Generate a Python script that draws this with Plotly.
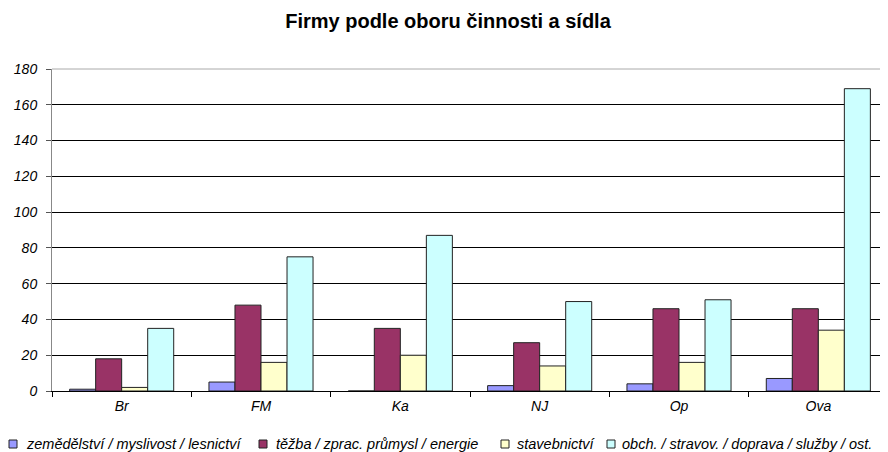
import plotly.graph_objects as go

# sídla (categories)
sidla = ['Br', 'FM', 'Ka', 'NJ', 'Op', 'Ova']

# počty firem podle oboru
zemedelstvi = [1, 5, 0, 3, 4, 7]
tezba = [18, 48, 35, 27, 46, 46]
stavebnictvi = [2, 16, 20, 14, 16, 34]
obchod = [35, 75, 87, 50, 51, 169]

y_ticks = [0, 20, 40, 60, 80, 100, 120, 140, 160, 180]

nazvy = ['zemědělství / myslivost / lesnictví',
         'těžba / zprac. průmysl / energie',
         'stavebnictví',
         'obch. / stravov. / doprava / služby / ost.']
barvy = ['#9999FF', '#993366', '#FFFFCC', '#CCFFFF']
hodnoty_vse = [zemedelstvi, tezba, stavebnictvi, obchod]

FONT = 'Liberation Sans, Arial, sans-serif'
font_it = dict(family=FONT, size=14, color='black', style='italic')

fig = go.Figure()
for nazev, hodnoty, barva in zip(nazvy, hodnoty_vse, barvy):
    fig.add_trace(go.Bar(
        x=sidla, y=hodnoty, name=nazev,
        marker=dict(color=barva, line=dict(color='#222222', width=1)),
    ))

# the page body has an 8px margin, so the figure is 8px smaller than the window
OFF = 8
W, H = 888 - OFF, 452 - OFF
# plot area in page pixels: x 52..888, y 69..391
L, R, T, B = 52 - OFF, 0, 69 - OFF, 452 - 391
pw, ph = W - L - R, H - T - B


def px_x(x):
    return (x - OFF - L) / pw


def px_y(y):
    return (H - B - (y - OFF)) / ph


fig.update_layout(
    width=W, height=H,
    margin=dict(l=L, r=R, t=T, b=B, autoexpand=False),
    paper_bgcolor='white', plot_bgcolor='white',
    barmode='group', bargap=0.253, bargroupgap=0,
    title=dict(text='<b>Firmy podle oboru činnosti a sídla</b>',
               x=0.5, xref='container', y=1 - (21 - OFF) / H,
               yanchor='middle',
               font=dict(family=FONT, size=20, color='black')),
    showlegend=False,
    xaxis=dict(showline=True, linecolor='black', linewidth=1,
               ticks='outside', tickson='boundaries', ticklen=5,
               tickcolor='black', tickfont=font_it, showgrid=False,
               ticklabelstandoff=2),
    yaxis=dict(range=[0, 180], tickvals=y_ticks, showline=True,
               linecolor='#888888', linewidth=1, ticks='outside',
               ticklen=5, tickcolor='#555555', tickfont=font_it,
               gridcolor='black', gridwidth=1, zeroline=False,
               ticklabelstandoff=6),
)

# top border of the plot area is lighter grey
fig.add_shape(type='line', xref='paper', yref='paper', x0=0, x1=1, y0=1, y1=1,
              line=dict(color='#AAAAAA', width=1))

# legend drawn as a single row under the chart (page pixels)
leg_y = 444
square_x = [9, 259, 501, 607]
text_x = [24, 274, 515, 620]
for nazev, barva, sx, tx in zip(nazvy, barvy, square_x, text_x):
    fig.add_shape(type='rect', xref='paper', yref='paper',
                  x0=px_x(sx), x1=px_x(sx + 8),
                  y0=px_y(leg_y - 4), y1=px_y(leg_y + 4),
                  fillcolor=barva, line=dict(color='#222222', width=1))
    fig.add_annotation(text=nazev, xref='paper', yref='paper',
                       x=px_x(tx), y=px_y(leg_y), xanchor='left',
                       yanchor='middle', showarrow=False,
                       font=dict(family=FONT, size=14.5, color='black',
                                 style='italic'))

fig.write_html('out.html')
